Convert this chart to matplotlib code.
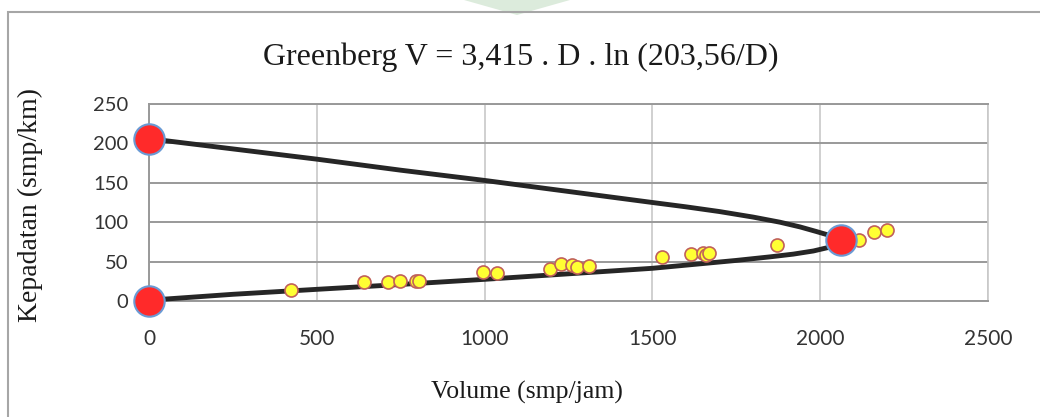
import matplotlib
matplotlib.use("Agg")
import matplotlib.pyplot as plt
from matplotlib.patches import Rectangle, Polygon

# observed data: volume (smp/jam) vs density (smp/km)
volume = [423, 642, 711, 749, 795, 804, 995, 1036, 1196, 1229, 1260, 1275,
          1311, 1530, 1615, 1652, 1660, 1668, 1871, 2117, 2161, 2198]
density = [14, 24, 24.5, 25.5, 26, 26, 37, 35.5, 41, 47.5, 46, 43,
           44, 56, 59.5, 60.5, 59, 60.5, 71.5, 78, 87.5, 90]

# Greenberg model curve
curve_v = [0, 250, 500, 750, 1000, 1250, 1500, 1600, 1700, 1800, 1880, 1940,
           1990, 2030, 2052, 2062,
           2050, 2020, 1980, 1920, 1850, 1750, 1650, 1500, 1250, 1000, 750,
           500, 250, 0]
curve_d = [206, 193, 180, 166, 153, 139, 125, 119.5, 113.5, 106.5, 100, 94,
           88, 83, 79.5, 77,
           72, 67.5, 63.5, 59.5, 56, 51.5, 47.5, 41.5, 34.5, 27.5, 21,
           14.8, 8.5, 1]

# key points: jam density, capacity, origin
key_v = [0, 2062, 0]
key_d = [206, 77, 0]

xticks = [0, 500, 1000, 1500, 2000, 2500]
yticks = [0, 50, 100, 150, 200, 250]

serif = ["Liberation Serif", "DejaVu Serif"]

fig = plt.figure(figsize=(10.4, 4.17), dpi=100)
ax = fig.add_axes([149 / 1040, 1 - 301 / 417, 839 / 1040, 197 / 417])

# outer chart frame and faint watermark
fig.patches.append(Polygon([[464 / 1040, 1.0], [570 / 1040, 1.0], [517 / 1040, 1 - 15 / 417]],
                           closed=True, transform=fig.transFigure,
                           facecolor="#dcebdc", edgecolor="none", zorder=0))
fig.patches.append(Rectangle((8 / 1040, -0.05), 1.2, 1 - 12 / 417 + 0.05,
                             transform=fig.transFigure, fill=False,
                             edgecolor="#a6a6a6", lw=1.5, zorder=1))

ax.set_xlim(0, 2500)
ax.set_ylim(0, 250)
ax.set_xticks(xticks)
ax.set_yticks(yticks)
ax.set_xticklabels([str(t) for t in xticks])
ax.set_yticklabels([str(t) for t in yticks])
ax.tick_params(length=0, labelcolor="#333333")
ax.tick_params(axis="x", pad=20, labelsize=15)
ax.tick_params(axis="y", pad=15, labelsize=14.5)
for lab in ax.get_xticklabels() + ax.get_yticklabels():
    lab.set_family(["Lato", "DejaVu Sans"])

ax.set_axisbelow(True)
ax.yaxis.grid(True, color="#999999", lw=1.4)
ax.xaxis.grid(True, color="#c8c8c8", lw=1.2)
for side in ["top", "left", "bottom"]:
    ax.spines[side].set_color("#999999")
    ax.spines[side].set_linewidth(1.4)
ax.spines["right"].set_color("#c8c8c8")
ax.spines["right"].set_linewidth(1.2)

ax.plot(curve_v, curve_d, color="#262626", lw=3.5, solid_capstyle="round",
        solid_joinstyle="round", zorder=3, clip_on=False)
ax.scatter(volume, density, s=88, facecolor="#ffff33", edgecolor="#c0605a",
           lw=1.2, zorder=4, clip_on=False)
ax.scatter(key_v, key_d, s=480, facecolor="#ff2a2a", edgecolor="#6a9ad4",
           lw=1.5, zorder=5, clip_on=False)

fig.text(521 / 1040, 1 - 57 / 417, "Greenberg V = 3,415 . D . ln (203,56/D)",
         family=serif, fontsize=23, color="#1a1a1a", ha="center", va="center")
fig.text(527 / 1040, 1 - 392 / 417, "Volume (smp/jam)", family=serif,
         fontsize=18.5, color="#1a1a1a", ha="center", va="center")
fig.text(30 / 1040, 1 - 205 / 417, "Kepadatan (smp/km)", family=serif,
         fontsize=20, color="#1a1a1a", ha="center", va="center", rotation=90)

fig.savefig("out.png", dpi=100)
